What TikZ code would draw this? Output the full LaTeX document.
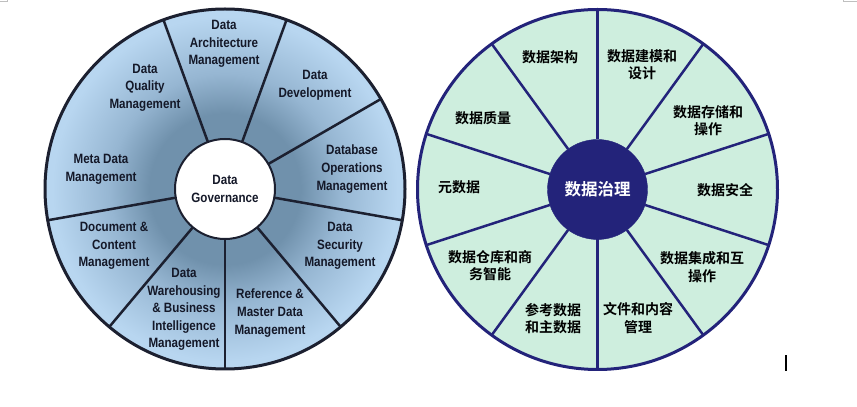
\documentclass[tikz,border=0pt]{standalone}
\usepackage{fontspec}
\setmainfont{Liberation Sans}
\newfontfamily\engfont{Liberation Sans Bold}[FakeStretch=0.86]
\newfontfamily\cjk{Noto Sans CJK SC Bold}
\usepackage{xcolor}
\definecolor{bluefill}{RGB}{184,214,240}
\definecolor{bluemid}{RGB}{150,182,210}
\definecolor{bluedark}{RGB}{112,145,172}
\definecolor{rimdark}{RGB}{28,32,48}
\definecolor{inkdark}{RGB}{20,24,40}
\definecolor{navy}{RGB}{35,35,122}
\definecolor{mint}{RGB}{206,238,222}
\pgfdeclareradialshading{wheelshade}{\pgfpoint{0bp}{0bp}}{color(0bp)=(bluedark); color(10.5bp)=(bluedark); color(16bp)=(bluemid); color(24bp)=(bluefill); color(50bp)=(bluefill)}

\begin{document}
\begin{tikzpicture}[x=1pt, y=1pt,
    wheel/.style={circle, minimum size=360pt, inner sep=0pt, outer sep=0pt, line width=3pt},
    hub/.style={circle, minimum size=100pt, inner sep=0pt, outer sep=0pt},
    entext/.style={align=center, text=inkdark, font=\engfont\fontsize{13.5}{17.6}\selectfont},
    cntext/.style={align=center, text=black, font=\cjk\fontsize{14}{17.5}\selectfont}]
    \useasboundingbox (0,0) rectangle (857,407);
    % left wheel
    \node [wheel, shade, shading=wheelshade, draw=rimdark] (lrim) at (225,218) {};
    \node [hub, fill=white, draw=rimdark, line width=2pt, entext] (gov) at (225,218) {Data\\Governance};
    \foreach \a in {110,70,...,-170}
        \draw [rimdark, line width=2.5pt] (gov.\a) -- (lrim.\a);
    \node [entext] (arch) at (224,363) {Data\\Architecture\\Management};
    \node [entext] (dev) at (315,321.5) {Data\\Development};
    \node [entext] (dbops) at (352,238) {Database\\Operations\\Management};
    \node [entext] (sec) at (340,161) {Data\\Security\\Management};
    \node [entext] (ref) at (270,94) {Reference \&\\Master Data\\Management};
    \node [entext] (dwbi) at (184,97.5) {Data\\Warehousing\\\& Business\\Intelligence\\Management};
    \node [entext] (doc) at (114,161) {Document \&\\Content\\Management};
    \node [entext] (meta) at (101,237.5) {Meta Data\\Management};
    \node [entext] (qual) at (145,319.5) {Data\\Quality\\Management};
    % right wheel
    \node [wheel, fill=mint, draw=navy] (rrim) at (597.5,217.5) {};
    \node [hub, fill=navy, draw=navy, cntext, text=white, font=\cjk\fontsize{16.5}{20}\selectfont] (zhili) at (597.5,217.5) {数据治理};
    \foreach \a in {90,54,...,-234}
        \draw [navy, line width=2.5pt] (zhili.\a) -- (rrim.\a);
    \node [cntext] (carch) at (550,350) {数据架构};
    \node [cntext] (cmodel) at (642,342.5) {数据建模和\\设计};
    \node [cntext] (cstore) at (708,286.5) {数据存储和\\操作};
    \node [cntext] (csec) at (725,217) {数据安全};
    \node [cntext] (cinteg) at (702,140) {数据集成和互\\操作};
    \node [cntext] (cdoc) at (638,89) {文件和内容\\管理};
    \node [cntext] (cref) at (553,88.5) {参考数据\\和主数据};
    \node [cntext] (cdwbi) at (490,141.5) {数据仓库和商\\务智能};
    \node [cntext] (cmeta) at (459,220) {元数据};
    \node [cntext] (cqual) at (483,289) {数据质量};
    % corner marks and cursor
    \draw [black!25, line width=1pt] (0,405) -| (7,407);
    \draw [black!25, line width=1pt] (857,405) -| (843,407);
    \draw [black, line width=1.8pt] (786,36) -- (786,52);
\end{tikzpicture}
\end{document}
